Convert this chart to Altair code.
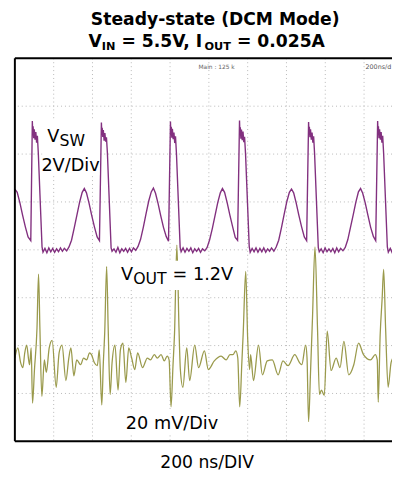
import altair as alt
import pandas as pd

# ---------------- data (time in ns, level in screen divisions) ----------------
x_domain = [0, 1944]
y_domain = [0, 8]
grid_t = [200, 400, 600, 800, 1000, 1200, 1400, 1600, 1800]
grid_div = [1, 2, 3, 4, 5, 6, 7]

vsw_t_start = [0, 12, 26, 40, 54, 68, 82]
vsw_v_start = [5.27, 5.2, 4.98, 4.72, 4.48, 4.27, 4.19]

vsw_t_p0 = [90, 92, 94, 97, 100, 104, 108, 112, 116, 121, 140, 145, 155, 165, 175, 185, 195, 205, 215, 225, 235, 245, 255, 267, 279, 292, 306, 320, 334, 347, 358, 369, 382, 396, 410, 424, 436]
vsw_v_p0 = [6.69, 6.42, 6.58, 6.33, 6.52, 6.30, 6.46, 6.24, 6.38, 6.0, 4.06, 3.95, 4.03, 3.94, 4.04, 3.96, 4.03, 3.95, 4.02, 3.96, 4.04, 3.97, 4.03, 3.98, 4.06, 4.2, 4.46, 4.73, 5.0, 5.2, 5.28, 5.19, 4.98, 4.72, 4.48, 4.27, 4.19]

vsw_t_p1 = [446, 448, 450, 453, 456, 460, 464, 468, 472, 477, 496, 501, 511, 521, 531, 541, 551, 561, 571, 581, 591, 601, 611, 623, 635, 648, 662, 676, 690, 703, 714, 725, 738, 752, 766, 780, 792]
vsw_v_p1 = [6.66, 6.45, 6.55, 6.36, 6.50, 6.28, 6.44, 6.26, 6.35, 6.02, 4.04, 3.97, 4.02, 3.95, 4.05, 3.94, 4.02, 3.97, 4.03, 3.95, 4.03, 3.96, 4.04, 3.99, 4.07, 4.22, 4.47, 4.75, 5.02, 5.21, 5.29, 5.18, 4.97, 4.71, 4.47, 4.28, 4.18]

vsw_t_p2 = [802, 804, 806, 809, 812, 816, 820, 824, 828, 833, 852, 857, 867, 877, 887, 897, 907, 917, 927, 937, 947, 957, 967, 979, 991, 1004, 1018, 1032, 1046, 1059, 1070, 1081, 1094, 1108, 1122, 1136, 1148]
vsw_v_p2 = [6.68, 6.40, 6.57, 6.34, 6.53, 6.31, 6.45, 6.23, 6.37, 6.0, 4.05, 3.96, 4.04, 3.95, 4.03, 3.97, 4.04, 3.94, 4.02, 3.97, 4.03, 3.95, 4.02, 3.98, 4.05, 4.21, 4.45, 4.72, 4.99, 5.19, 5.28, 5.2, 4.99, 4.73, 4.49, 4.26, 4.2]

vsw_t_p3 = [1158, 1160, 1162, 1165, 1168, 1172, 1176, 1180, 1184, 1189, 1208, 1213, 1223, 1233, 1243, 1253, 1263, 1273, 1283, 1293, 1303, 1313, 1323, 1335, 1347, 1360, 1374, 1388, 1402, 1415, 1426, 1437, 1450, 1464, 1478, 1492, 1504]
vsw_v_p3 = [6.70, 6.43, 6.56, 6.32, 6.51, 6.29, 6.47, 6.25, 6.36, 6.01, 4.07, 3.95, 4.03, 3.96, 4.04, 3.95, 4.03, 3.96, 4.04, 3.95, 4.02, 3.97, 4.04, 3.97, 4.06, 4.2, 4.46, 4.74, 5.01, 5.2, 5.27, 5.19, 4.98, 4.72, 4.48, 4.27, 4.19]

vsw_t_p4 = [1514, 1516, 1518, 1521, 1524, 1528, 1532, 1536, 1540, 1545, 1564, 1569, 1579, 1589, 1599, 1609, 1619, 1629, 1639, 1649, 1659, 1669, 1679, 1691, 1703, 1716, 1730, 1744, 1758, 1771, 1782, 1793, 1806, 1820, 1834, 1848, 1860]
vsw_v_p4 = [6.67, 6.44, 6.57, 6.35, 6.52, 6.30, 6.45, 6.24, 6.37, 6.0, 4.05, 3.96, 4.02, 3.94, 4.04, 3.96, 4.02, 3.96, 4.03, 3.94, 4.04, 3.96, 4.03, 3.98, 4.05, 4.21, 4.47, 4.73, 5.0, 5.21, 5.28, 5.18, 4.98, 4.72, 4.47, 4.28, 4.19]

vsw_t_p5 = [1870, 1872, 1874, 1877, 1880, 1884, 1888, 1892, 1896, 1901, 1920, 1925, 1935, 1945, 1950]
vsw_v_p5 = [6.69, 6.42, 6.58, 6.33, 6.52, 6.30, 6.46, 6.24, 6.38, 6.0, 4.06, 3.95, 4.03, 3.94, 4.0]

vout_t = [0, 15, 30, 41, 51, 61, 71, 76, 84, 91,
          101, 114, 122, 129, 139, 152, 162, 177, 192, 213,
          228, 243, 263, 278, 289, 304, 319, 339, 354, 370,
          385, 395, 410, 425, 435, 448, 456, 463, 473, 481,
          491, 501, 516, 532, 544, 557, 572, 587, 602, 618,
          633, 658, 683, 699, 719, 734, 754, 770, 785, 795,
          805, 815, 823, 835, 846, 853, 866, 886, 901, 927,
          947, 977, 997, 1028, 1063, 1089, 1109, 1124, 1139, 1149,
          1159, 1170, 1177, 1190, 1200, 1210, 1215, 1230, 1256, 1276,
          1301, 1327, 1357, 1382, 1408, 1443, 1468, 1479, 1499, 1506,
          1514, 1524, 1534, 1547, 1560, 1570, 1580, 1595, 1610, 1630,
          1656, 1676, 1696, 1721, 1747, 1772, 1797, 1833, 1858, 1868,
          1873, 1883, 1893, 1901, 1911, 1924, 1939, 1949]
vout_div = [1.74, 1.95, 1.64, 1.54, 1.85, 2.01, 1.70, 1.60, 1.95, 0.80,
            1.50, 2.36, 3.49, 2.36, 0.94, 1.70, 1.44, 1.95, 2.11, 1.13,
            1.85, 2.01, 1.27, 1.74, 1.95, 1.37, 1.70, 1.60, 1.74, 1.70,
            1.85, 1.81, 1.64, 1.58, 1.91, 0.76, 1.64, 2.26, 3.65, 2.36,
            0.98, 1.64, 2.01, 1.07, 1.91, 2.05, 1.23, 1.95, 1.74, 1.50,
            1.85, 1.54, 1.74, 1.70, 1.81, 1.74, 1.81, 1.68, 1.78, 1.70,
            0.72, 1.58, 2.26, 4.10, 2.36, 1.50, 1.13, 1.95, 1.27, 2.01,
            1.54, 1.89, 1.50, 1.68, 1.78, 1.70, 1.81, 1.81, 1.89, 1.74,
            0.72, 1.64, 2.26, 3.55, 2.15, 1.50, 1.81, 1.27, 2.01, 1.39,
            1.68, 1.70, 1.39, 1.68, 1.58, 1.81, 1.64, 1.60, 2.01, 1.74,
            0.41, 1.44, 2.56, 4.06, 2.36, 0.98, 1.07, 0.96, 2.30, 1.48,
            1.74, 1.54, 2.09, 1.39, 1.60, 2.05, 1.81, 1.70, 1.81, 1.70,
            0.82, 2.22, 2.97, 3.59, 2.36, 1.13, 1.64, 1.74]

vsw_t = vsw_t_start + vsw_t_p0 + vsw_t_p1 + vsw_t_p2 + vsw_t_p3 + vsw_t_p4 + vsw_t_p5
vsw_div = vsw_v_start + vsw_v_p0 + vsw_v_p1 + vsw_v_p2 + vsw_v_p3 + vsw_v_p4 + vsw_v_p5

# ---------------- chart ----------------
W, H = 384, 390
FONT = "DejaVu Sans"
xs = alt.Scale(domain=x_domain)
ys = alt.Scale(domain=y_domain)

vsw_df = pd.DataFrame({"t": vsw_t, "v": vsw_div})
vout_df = pd.DataFrame({"t": vout_t, "v": vout_div})
one = pd.DataFrame({"a": [0]})

grid_x = alt.Chart(pd.DataFrame({"t": grid_t})).mark_rule(
    color="#b8b8b8", strokeWidth=1, strokeDash=[1, 3]
).encode(x=alt.X("t:Q", scale=xs, axis=None))
grid_y = alt.Chart(pd.DataFrame({"v": grid_div})).mark_rule(
    color="#b8b8b8", strokeWidth=1, strokeDash=[1, 3]
).encode(y=alt.Y("v:Q", scale=ys, axis=None))

vsw_line = alt.Chart(vsw_df).mark_line(color="#82307f", strokeWidth=1.4, clip=True).encode(
    x=alt.X("t:Q", scale=xs, axis=None), y=alt.Y("v:Q", scale=ys, axis=None))
vout_line = alt.Chart(vout_df).mark_line(
    color="#9a9a4c", strokeWidth=1.3, clip=True, interpolate="monotone"
).encode(x=alt.X("t:Q", scale=xs, axis=None), y=alt.Y("v:Q", scale=ys, axis=None))


def box(x1, x2, y1, y2):
    return alt.Chart(one).mark_rect(color="white").encode(
        x=alt.value(x1), x2=alt.value(x2), y=alt.value(y1), y2=alt.value(y2))


def label(text, x, y, size, bold=False, color="black", align="left"):
    return alt.Chart(one).mark_text(
        text=text, align=align, baseline="alphabetic", font=FONT, fontSize=size,
        fontWeight="bold" if bold else "normal", color=color,
    ).encode(x=alt.value(x), y=alt.value(y))


def frame_h(y):
    return alt.Chart(one).mark_rule(color="black", strokeWidth=2).encode(
        x=alt.value(0), x2=alt.value(W), y=alt.value(y))


frame_left = alt.Chart(one).mark_rule(color="black", strokeWidth=2).encode(
    x=alt.value(0), y=alt.value(0), y2=alt.value(H))

layers = [
    grid_x, grid_y, vsw_line, vout_line,
    box(28, 86, 62, 119),
    box(105, 223, 206, 236),
    box(110, 210, 358, 383),
    # annotations inside the screen
    label("V", 33, 85, 18),
    label("SW", 45.5, 89, 16),
    label("2V/Div", 27, 115, 18),
    label("V", 108, 226, 18),
    label("OUT", 120.5, 230, 16),
    label("= 1.2V", 160.5, 226, 18),
    label("20 mV/Div", 113, 377, 18),
    label("Main : 125 k", 187, 11, 6, color="#666666"),
    label("200ns/d", 357, 11, 6.5, color="#555555"),
    # title
    label("Steady-state (DCM Mode)", 204, -34, 17.5, bold=True, align="center"),
    label("V", 75, -12, 17.5, bold=True),
    label("IN", 88.5, -8, 11.5, bold=True),
    label("= 5.5V, I", 108.5, -12, 17.5, bold=True),
    label("OUT", 193.1, -8, 11.5, bold=True),
    label("= 0.025A", 226.1, -12, 17.5, bold=True),
    # x caption
    label("200 ns/DIV", 148, 417, 17.5),
    frame_h(0), frame_h(H), frame_left,
]

chart = alt.layer(*layers).properties(
    width=W, height=H,
    padding={"left": 7, "top": 47, "right": 0, "bottom": 28},
    autosize=alt.AutoSizeParams(type="none"),
).configure_view(strokeWidth=0)

chart.save("out.html", embed_options={"renderer": "svg", "actions": False})
